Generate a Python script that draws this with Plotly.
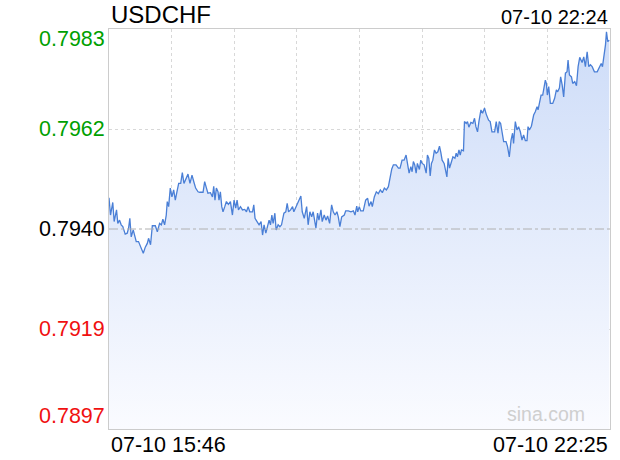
import plotly.graph_objects as go

# ---- data ----
symbol = "USDCHF"
latest_time = "07-10 22:24"
start_label = "07-10 15:46"
end_label = "07-10 22:25"
session_minutes = 399          # 15:46 -> 22:25
prev_close = 0.7940

y_tick_values = [0.7983, 0.79615, 0.7940, 0.79185, 0.7897]
y_tick_labels = ["0.7983", "0.7962", "0.7940", "0.7919", "0.7897"]

# minutes after 15:46
minutes = [
    0.0, 1.2, 3.0, 4.1, 6.0, 7.0, 8.4, 9.7, 11.0, 12.9, 14.5, 15.6, 16.6, 17.7, 19.3, 20.6,
    21.7, 23.5, 25.1, 27.3, 28.9, 30.5, 31.5, 33.1, 34.5, 36.9, 38.5, 40.3, 41.7, 42.9, 44.3,
    45.6, 46.4, 47.5, 48.8, 50.1, 51.5, 52.8, 54.1, 55.5, 57.1, 58.4, 59.7, 61.6, 62.9, 64.5,
    66.1, 67.7, 69.0, 70.9, 72.2, 74.9, 76.2, 77.6, 78.8, 80.8, 82.4, 83.4, 84.4, 85.5, 86.8,
    87.6, 88.7, 89.8, 90.8, 92.2, 93.5, 95.1, 96.7, 98.3, 99.6, 100.9, 102.0, 103.1, 104.7,
    106.3, 108.1, 109.5, 110.8, 112.1, 114.3, 115.3, 116.3, 117.9, 119.5, 121.1, 122.3, 123.5,
    124.9, 126.2, 127.5, 128.6, 129.7, 130.7, 132.1, 133.1, 134.7, 136.1, 137.4, 139.3, 140.8,
    141.9, 143.0, 144.6, 146.2, 147.2, 149.4, 151.0, 152.8, 153.9, 155.5, 157.4, 158.6, 160.0,
    161.4, 162.6, 164.0, 164.8, 166.1, 167.2, 168.8, 169.8, 171.4, 172.8, 174.1, 175.7, 177.3,
    178.6, 180.0, 181.5, 182.6, 183.9, 185.3, 187.4, 188.5, 190.6, 192.7, 194.6, 195.9, 197.3,
    198.1, 199.3, 200.5, 202.5, 204.4, 206.0, 207.1, 208.7, 209.7, 211.3, 212.9, 214.5, 216.1,
    217.7, 219.3, 220.9, 222.5, 223.8, 225.2, 226.5, 228.6, 230.5, 231.8, 233.4, 235.0, 236.6,
    237.6, 239.0, 240.4, 241.4, 242.4, 243.5, 244.6, 245.6, 247.2, 248.3, 249.4, 251.0, 252.6,
    253.6, 254.7, 255.8, 256.8, 257.9, 259.2, 260.5, 261.9, 263.2, 264.3, 265.3, 266.9, 267.7,
    269.1, 270.1, 271.2, 272.8, 273.9, 275.5, 276.5, 277.5, 278.7, 279.7, 280.7, 282.3, 283.1,
    284.5, 285.5, 286.6, 288.2, 289.8, 291.1, 292.2, 293.5, 294.6, 296.2, 297.5, 299.1, 300.4,
    302.3, 303.6, 305.0, 307.1, 308.4, 309.8, 310.8, 311.9, 313.0, 314.3, 316.2, 317.4, 318.8,
    320.2, 321.4, 322.2, 323.6, 324.9, 326.2, 327.6, 328.9, 330.2, 331.6, 332.9, 333.7, 334.8,
    336.4, 338.2, 339.5, 340.9, 341.7, 342.7, 344.1, 345.4, 346.7, 347.5, 348.3, 349.1, 350.2,
    351.5, 353.4, 354.9, 356.3, 357.3, 358.7, 359.7, 360.9, 362.1, 363.5, 364.8, 365.6, 366.7,
    368.3, 369.3, 370.9, 372.3, 373.6, 374.9, 376.8, 378.1, 379.4, 380.8, 382.1, 383.4, 384.8,
    386.6, 388.8, 390.4, 392.0, 393.0, 394.1, 395.4, 396.2, 397.2, 398.4,
]

prices = [
    0.79467, 0.79430, 0.79457, 0.79416, 0.79441, 0.79412, 0.79419, 0.79409, 0.79405, 0.79389,
    0.79391, 0.79402, 0.79423, 0.79383, 0.79398, 0.79387, 0.79373, 0.79373, 0.79362, 0.79348,
    0.79361, 0.79369, 0.79380, 0.79366, 0.79407, 0.79407, 0.79394, 0.79412, 0.79409, 0.79421,
    0.79409, 0.79430, 0.79459, 0.79448, 0.79488, 0.79469, 0.79484, 0.79462, 0.79480, 0.79498,
    0.79498, 0.79521, 0.79498, 0.79509, 0.79518, 0.79498, 0.79516, 0.79500, 0.79488, 0.79480,
    0.79479, 0.79479, 0.79502, 0.79488, 0.79477, 0.79478, 0.79469, 0.79492, 0.79462, 0.79488,
    0.79480, 0.79462, 0.79480, 0.79448, 0.79437, 0.79448, 0.79459, 0.79453, 0.79459, 0.79430,
    0.79462, 0.79445, 0.79462, 0.79441, 0.79448, 0.79441, 0.79442, 0.79437, 0.79448, 0.79437,
    0.79437, 0.79452, 0.79423, 0.79416, 0.79409, 0.79416, 0.79387, 0.79409, 0.79391, 0.79405,
    0.79419, 0.79409, 0.79430, 0.79412, 0.79434, 0.79398, 0.79409, 0.79405, 0.79409, 0.79434,
    0.79437, 0.79455, 0.79437, 0.79441, 0.79448, 0.79437, 0.79452, 0.79459, 0.79471, 0.79437,
    0.79423, 0.79448, 0.79409, 0.79437, 0.79426, 0.79437, 0.79419, 0.79402, 0.79434, 0.79419,
    0.79441, 0.79416, 0.79430, 0.79419, 0.79428, 0.79412, 0.79452, 0.79437, 0.79430, 0.79437,
    0.79426, 0.79405, 0.79426, 0.79430, 0.79439, 0.79439, 0.79437, 0.79439, 0.79430, 0.79449,
    0.79437, 0.79448, 0.79439, 0.79439, 0.79462, 0.79466, 0.79449, 0.79459, 0.79448, 0.79469,
    0.79480, 0.79476, 0.79484, 0.79478, 0.79488, 0.79484, 0.79491, 0.79510, 0.79529, 0.79538,
    0.79538, 0.79531, 0.79531, 0.79548, 0.79548, 0.79559, 0.79545, 0.79520, 0.79534, 0.79523,
    0.79545, 0.79538, 0.79520, 0.79541, 0.79528, 0.79548, 0.79541, 0.79538, 0.79520, 0.79559,
    0.79552, 0.79514, 0.79541, 0.79548, 0.79570, 0.79563, 0.79566, 0.79578, 0.79564, 0.79548,
    0.79541, 0.79531, 0.79512, 0.79552, 0.79531, 0.79545, 0.79555, 0.79552, 0.79563, 0.79555,
    0.79570, 0.79559, 0.79570, 0.79568, 0.79631, 0.79627, 0.79631, 0.79619, 0.79629, 0.79627,
    0.79638, 0.79620, 0.79609, 0.79631, 0.79656, 0.79649, 0.79660, 0.79647, 0.79634, 0.79631,
    0.79609, 0.79609, 0.79631, 0.79606, 0.79631, 0.79627, 0.79609, 0.79588, 0.79588, 0.79577,
    0.79555, 0.79591, 0.79606, 0.79584, 0.79631, 0.79613, 0.79620, 0.79609, 0.79591, 0.79602,
    0.79590, 0.79590, 0.79620, 0.79613, 0.79621, 0.79645, 0.79652, 0.79663, 0.79656, 0.79670,
    0.79688, 0.79688, 0.79706, 0.79720, 0.79713, 0.79688, 0.79706, 0.79670, 0.79670, 0.79681,
    0.79699, 0.79695, 0.79703, 0.79727, 0.79710, 0.79684, 0.79735, 0.79738, 0.79763, 0.79731,
    0.79727, 0.79713, 0.79717, 0.79708, 0.79749, 0.79769, 0.79758, 0.79770, 0.79749, 0.79781,
    0.79749, 0.79753, 0.79749, 0.79738, 0.79738, 0.79749, 0.79756, 0.79749, 0.79770, 0.79796,
    0.79824, 0.79803, 0.79806,
]

# ---- styling ----
FONT = "Liberation Sans, Arial, sans-serif"
LINE_COLOR = "#4a7fd6"
UP_COLOR = "#00a000"
DOWN_COLOR = "#f01010"
y_min, y_max = y_tick_values[-1], y_tick_values[0]

fig = go.Figure()
fig.add_trace(go.Scatter(
    x=minutes, y=prices, mode="lines",
    line=dict(color=LINE_COLOR, width=1.3),
    fill="tozeroy",
    fillgradient=dict(type="vertical", start=y_min, stop=y_max,
                      colorscale=[[0, "rgb(250,251,255)"], [1, "rgb(205,220,248)"]]),
    hoverinfo="skip", showlegend=False,
))

# previous close line
fig.add_shape(type="line", xref="x", yref="y", x0=0, x1=session_minutes,
              y0=prev_close, y1=prev_close,
              line=dict(color="#b0b0b0", width=1, dash="dashdot"), layer="above")

annotations = []
label_colors = []
for v in y_tick_values:
    if abs(v - prev_close) < 1e-9:
        label_colors.append("#000000")
    elif v > prev_close:
        label_colors.append(UP_COLOR)
    else:
        label_colors.append(DOWN_COLOR)

for i, (v, t, c) in enumerate(zip(y_tick_values, y_tick_labels, label_colors)):
    yshift = 0
    if i == 0:
        yshift = -10
    elif i == len(y_tick_values) - 1:
        yshift = 13
    annotations.append(dict(x=0, xref="paper", y=v, yref="y", text=t, showarrow=False,
                            xanchor="right", yanchor="middle", xshift=-2, yshift=yshift,
                            font=dict(family=FONT, size=21.5, color=c)))

annotations += [
    dict(x=0, xref="paper", y=1.036, yref="paper", text=symbol, showarrow=False,
         xanchor="left", yanchor="middle", xshift=0,
         font=dict(family=FONT, size=24, color="#000")),
    dict(x=1, xref="paper", y=1.031, yref="paper", text=latest_time, showarrow=False,
         xanchor="right", yanchor="middle", xshift=0,
         font=dict(family=FONT, size=20, color="#000")),
    dict(x=0, xref="paper", y=-0.041, yref="paper", text=start_label, showarrow=False,
         xanchor="left", yanchor="middle", xshift=0,
         font=dict(family=FONT, size=21.5, color="#000")),
    dict(x=1, xref="paper", y=-0.041, yref="paper", text=end_label, showarrow=False,
         xanchor="right", yanchor="middle", xshift=0,
         font=dict(family=FONT, size=21.5, color="#000")),
    dict(x=0.955, xref="paper", y=0.037, yref="paper", text="sina.com", showarrow=False,
         xanchor="right", yanchor="middle",
         font=dict(family=FONT, size=19.5, color="#cfcfcf")),
]

fig.update_layout(
    width=620, height=460,
    margin=dict(l=109, r=10, t=29, b=31),
    paper_bgcolor="white", plot_bgcolor="white",
    annotations=annotations,
    xaxis=dict(range=[0, session_minutes],
               tickvals=[session_minutes * k / 8 for k in range(1, 8)],
               showticklabels=False, ticks="",
               showgrid=True, gridcolor="#d8d8d8", griddash="dot", gridwidth=1,
               zeroline=False, showline=True, linecolor="#cccccc", linewidth=1, mirror=True),
    yaxis=dict(range=[y_min, y_max],
               tickvals=[y_tick_values[1], y_tick_values[3]],
               showticklabels=False, ticks="",
               showgrid=True, gridcolor="#d8d8d8", griddash="dot", gridwidth=1,
               zeroline=False, showline=True, linecolor="#cccccc", linewidth=1, mirror=True),
)

# remove the default 8px page margin so the figure fills the window exactly
fig.write_html("out.html",
               config={"displayModeBar": False},
               post_script="document.body.style.margin='0';document.body.style.overflow='hidden';")
